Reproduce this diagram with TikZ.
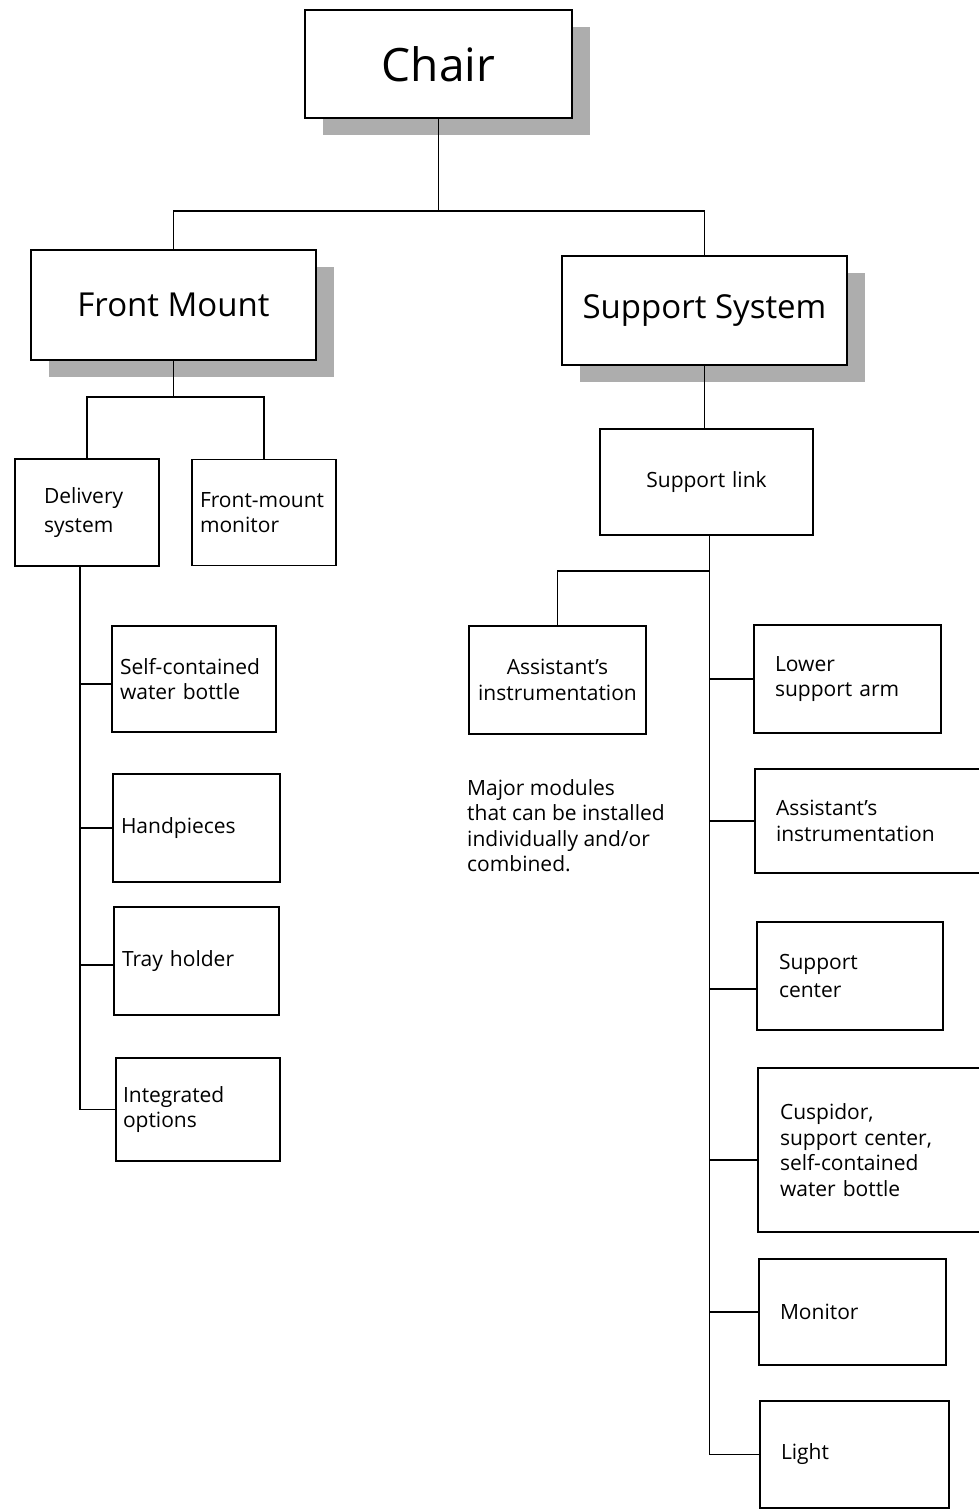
\documentclass[tikz,border=0pt]{standalone}
\usepackage{fontspec}
\setmainfont{Open Sans}
\usetikzlibrary{positioning,shadows}

\tikzset{
  head/.style={draw, line width=1.7pt, fill=white, align=center,
    drop shadow={shadow xshift=18pt, shadow yshift=-17pt, fill=black!32, opacity=1}},
  part/.style={draw, line width=1.7pt, fill=white, align=left, outer sep=0pt,
    font=\fontsize{21}{25.5}\selectfont},
  wire/.style={line width=1.6pt},
}

\begin{document}
\begin{tikzpicture}[x=1pt, y=-1pt]
    \useasboundingbox (0,0) rectangle (979,1509);
    \clip (0,0) rectangle (979,1509);

    \node [head, minimum width=267pt, minimum height=108pt, font=\fontsize{46}{50}\selectfont](chair) at (438.5,64){Chair};
    \node [head, minimum width=285pt, minimum height=110pt, font=\fontsize{33}{38}\selectfont](front) at (173.5,305){Front Mount};
    \node [head, minimum width=285pt, minimum height=109pt, font=\fontsize{33}{38}\selectfont](support) at (704.5,310.5){Support System};
    \coordinate (c1) at (438.5,211);
    \draw [wire] (chair.south) -- (c1);
    \draw [wire] (front.north) |- (c1) -| (support.north);

    % front mount side
    \node [part, minimum height=107pt, text width=86pt, inner xsep=29pt](delivery) at (87,512.5){Delivery\\[4pt]system};
    \node [part, minimum height=106pt, text width=128pt, inner xsep=8pt, right=33pt of delivery](fmonitor){Front-mount\\monitor};
    \draw [wire] (front.south) -- ++(0,36) coordinate (f1);
    \draw [wire] (delivery.north) |- (f1) -| (fmonitor.north);

    \node [part, minimum height=106pt, text width=148pt, inner xsep=8pt](selfc) at (194,679){Self-contained\\water bottle};
    \node [part, minimum height=108pt, text width=151pt, inner xsep=8pt, below=42pt of selfc.south west, anchor=north west, xshift=1pt](hand){Handpieces};
    \node [part, minimum height=108pt, text width=149pt, inner xsep=8pt, below=25pt of hand.south west, anchor=north west, xshift=1pt](tray){Tray holder};
    \node [part, minimum height=103pt, text width=150pt, inner xsep=7pt, below=43pt of tray.south west, anchor=north west, xshift=2pt](integ){Integrated\\options};
    \foreach \b/\s in {selfc/-5,hand/0,tray/-4,integ/0}
        \draw [wire] ([xshift=-7pt]delivery.south) |- ([yshift=\s pt]\b.west);

    % support system side
    \node [part, minimum height=106pt, text width=193pt, inner xsep=10pt, align=center](slink) at (706.5,482){Support link};
    \draw [wire] (support.south) -- (support.south |- slink.north);
    \coordinate (t1) at ([xshift=3pt]slink.south);

    \node [part, minimum height=108pt, text width=161pt, inner xsep=8pt, align=center](assistm) at (557.5,680){Assistant’s\\instrumentation};
    \draw [wire] (t1) -- ++(0,36) -| (assistm.north);
    \node [align=left, inner sep=0pt, anchor=north west, font=\fontsize{21}{25.5}\selectfont](note) at (467,779){Major modules\\that can be installed\\individually and/or\\combined.};

    \node [part, minimum height=108pt, text width=145pt, inner xsep=21pt](lower) at (847.5,679){Lower\\support arm};
    \node [part, minimum height=104pt, text width=203pt, inner xsep=21pt, below=36pt of lower.south west, anchor=north west, xshift=1pt](assistr){Assistant’s\\instrumentation};
    \node [part, minimum height=108pt, text width=142pt, inner xsep=22pt, below=49pt of assistr.south west, anchor=north west, xshift=2pt](scenter){Support\\[3pt]center};
    \node [part, minimum height=164pt, text width=198pt, inner xsep=22pt, below=38pt of scenter.south west, anchor=north west, xshift=1pt](cusp){Cuspidor,\\support center,\\self-contained\\water bottle};
    \node [part, minimum height=106pt, text width=145pt, inner xsep=21pt, below=27pt of cusp.south west, anchor=north west, xshift=1pt](monitor){Monitor};
    \node [part, minimum height=107pt, text width=147pt, inner xsep=21pt, below=36pt of monitor.south west, anchor=north west, xshift=1pt](light){Light};
    \foreach \b/\s in {lower/0,assistr/0,scenter/-13,cusp/-10,monitor/0,light/0}
        \draw [wire] (t1) |- ([yshift=\s pt]\b.west);

\end{tikzpicture}
\end{document}
